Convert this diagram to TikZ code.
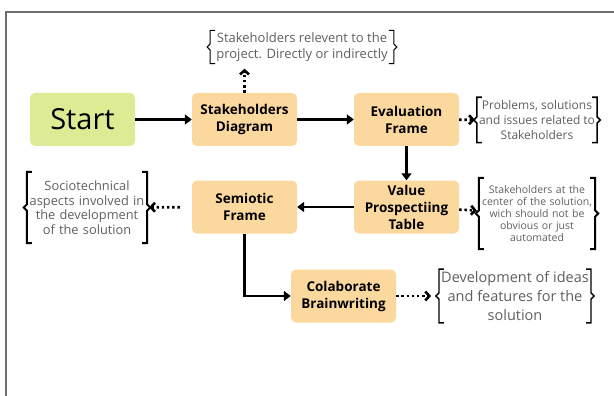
\documentclass[tikz,border=0pt]{standalone}
\usepackage{fontspec}
\setmainfont{Open Sans}
\usetikzlibrary{arrows.meta}
\definecolor{startgreen}{RGB}{221,235,148}
\definecolor{steporange}{RGB}{251,216,157}
\definecolor{notegray}{RGB}{95,95,95}
\definecolor{framegray}{RGB}{110,110,110}
\tikzset{
  stepbox/.style={fill=steporange, rounded corners=5pt, minimum width=105pt,
    minimum height=53pt, align=center, font=\bfseries\fontsize{13.5}{17}\selectfont},
  startbox/.style={stepbox, fill=startgreen, font=\fontsize{29}{34}\selectfont},
  note/.style={text=notegray, align=center, inner sep=2pt, font=\fontsize{12}{15}\selectfont},
  flow/.style={line width=2.4pt, -{Triangle[length=7pt,width=10pt]}},
  hint/.style={line width=2.6pt, dash pattern=on 2.4pt off 2.8pt,
    -{Straight Barb[length=4pt,width=9pt]}}
}
% square bracket pair with a point in the middle, round a note
\newcommand{\notebrackets}[2][line width=1.6pt]{%
  \draw[#1] ([xshift=5pt]#2.north west) -- (#2.north west) -- ([yshift=3pt]#2.west)
    -- ([xshift=-3pt]#2.west) -- ([yshift=-3pt]#2.west) -- (#2.south west)
    -- ([xshift=5pt]#2.south west);
  \draw[#1] ([xshift=-5pt]#2.north east) -- (#2.north east) -- ([yshift=3pt]#2.east)
    -- ([xshift=3pt]#2.east) -- ([yshift=-3pt]#2.east) -- (#2.south east)
    -- ([xshift=-5pt]#2.south east);
}
\begin{document}
\begin{tikzpicture}[x=1pt,y=-1pt]
  \useasboundingbox (0,0) rectangle (614,396);
  % frame, open at right and bottom
  \draw[framegray,line width=2pt] (6,396) -- (6,12) -- (614,12);
  % steps
  \node[startbox] (start) at (82.5,119.5) {Start};
  \node[stepbox] (stake) at (244.5,119.5) {Stakeholders\\Diagram};
  \node[stepbox] (eval) at (406.5,119.5) {Evaluation\\Frame};
  \node[stepbox] (value) at (406.5,207) {Value\\Prospectiing\\Table};
  \node[stepbox] (semio) at (244.5,207) {Semiotic\\Frame};
  \node[stepbox] (colab) at (343.5,296) {Colaborate\\Brainwriting};
  % notes
  \node[note,font=\fontsize{13}{16}\selectfont,minimum height=33pt,inner xsep=6pt]
    (stakenote) at (302,47) {Stakeholders relevent to the\\project. Directly or indirectly};
  \node[note,minimum height=45pt] (evalnote) at (537,120) {Problems, solutions\\and issues related to\\Stakeholders};
  \node[note,font=\fontsize{10.5}{12}\selectfont,minimum height=71pt,text width=112pt]
    (valuenote) at (537,213.5) {Stakeholders at the\\center of the solution,\\wich should not be\\obvious or just\\automated};
  \node[note,font=\fontsize{12.8}{14.5}\selectfont,minimum height=71pt,text width=116pt]
    (semionote) at (87,207.5) {Sociotechnical\\aspects involved in\\the development\\of the solution};
  \node[note,font=\fontsize{14.5}{19}\selectfont,minimum height=52pt]
    (colabnote) at (515,296) {Development of ideas\\and features for the\\solution};
  \notebrackets[line width=1pt]{stakenote}
  \notebrackets{evalnote}
  \notebrackets[line width=2pt]{valuenote}
  \notebrackets[line width=2pt]{semionote}
  \notebrackets[line width=1.4pt]{colabnote}
  % flow
  \draw[flow] (start) -- (stake);
  \draw[flow] (stake) -- (eval);
  \draw[flow] (eval) -- (value);
  \draw[flow] (value) -- (semio);
  \draw[flow] (semio) |- (colab);
  % dotted hints
  \draw[hint,shorten >=5pt] (stake) -- (stake |- stakenote.south);
  \draw[hint,shorten >=2pt] (eval) -- (evalnote);
  \draw[hint,shorten >=2pt] (value) -- (valuenote);
  \draw[hint,shorten <=12pt,shorten >=2pt] (semio) -- (semionote);
  \draw[hint,shorten >=8pt] (colab) -- (colabnote);
\end{tikzpicture}
\end{document}
